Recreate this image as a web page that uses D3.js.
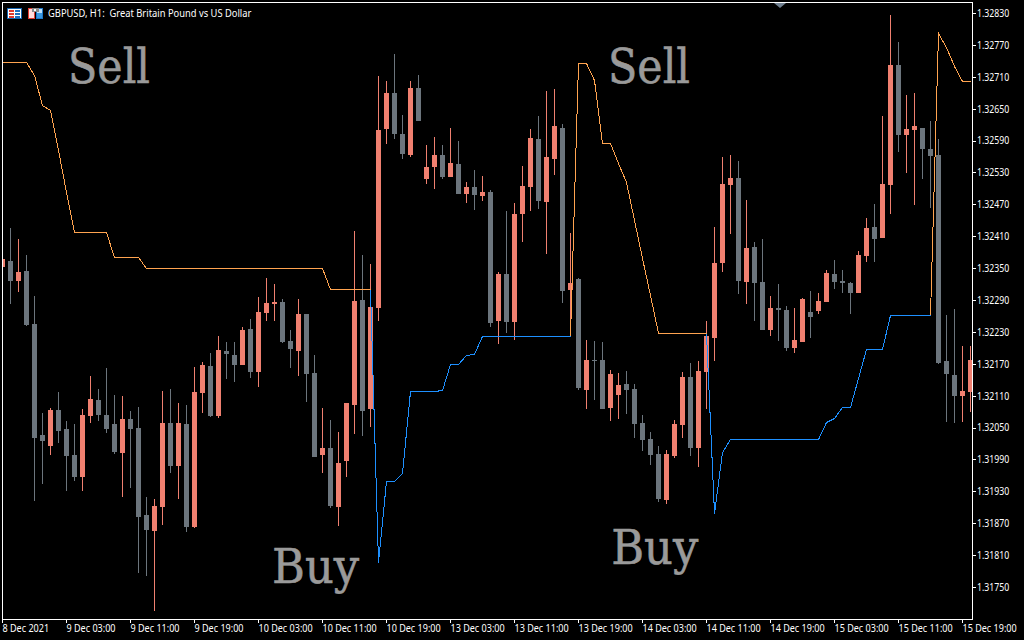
<!DOCTYPE html>
<html><head><meta charset="utf-8">
<style>
html,body{margin:0;padding:0;background:#000;overflow:hidden}
svg{display:block}
text{font-family:"Noto Sans","DejaVu Sans",sans-serif;fill:#fff}
</style>
<script src="https://cdn.jsdelivr.net/npm/d3@7/dist/d3.min.js"></script>
</head><body>
<script>
const title = "GBPUSD, H1:  Great Britain Pound vs US Dollar";
// Prices in points (1 point = 0.00001)
const open = [132352,132363,132326,132345,132245,132036,132015,132083,132047,131998,131957,132072,132102,132074,132057,132002,132066,132049,131886,131855,131900,132059,131978,132057,131863,132115,132166,132072,132194,132187,132168,132235,132155,132265,132283,132286,132213,132194,132263,132153,131998,132012,131900,131987,132092,132290,132085,132275,132612,132680,132602,132563,132689,132518,132540,132563,132521,132546,132490,132503,132486,132493,132250,132339,132249,132452,132503,132593,132474,132555,132614,132309,132330,132121,132177,132177,132087,132111,132132,132123,132059,132029,132000,131914,131997,132055,132145,132012,132155,132219,132360,132506,132520,132324,132390,132324,132234,132275,132271,132200,132211,132267,132269,132286,132339,132326,132322,132303,132373,132427,132407,132506,132732,132600,132610,132614,132574,132563,132175,132149,132109,132117];
const high = [132375,132426,132405,132375,132298,132077,132087,132117,132062,132057,132085,132147,132123,132162,132111,132109,132081,132089,131919,131916,132119,132123,132096,132092,132164,132173,132190,132222,132211,132211,132239,132254,132296,132332,132320,132292,132234,132292,132263,132187,132087,132064,132042,132096,132420,132375,132358,132711,132702,132753,132638,132702,132713,132582,132597,132582,132614,132589,132512,132535,132523,132497,132343,132457,132473,132542,132612,132636,132683,132687,132621,132416,132332,132215,132213,132211,132158,132153,132156,132132,132074,132042,132015,132008,132064,132155,132171,132175,132250,132427,132559,132563,132552,132478,132399,132405,132298,132320,132279,132275,132294,132307,132303,132347,132365,132347,132324,132382,132444,132471,132636,132826,132775,132676,132680,132614,132627,132593,132262,132273,132203,132203];
const low = [132337,132283,132305,132241,131912,131944,131998,132021,131930,131950,131930,132059,132062,132040,132000,131919,131936,131776,131771,131705,131867,131965,131916,131854,131861,132077,132070,132068,132141,132136,132168,132143,132126,132250,132250,132209,132162,132147,132098,131995,131965,131899,131865,131957,132038,132034,132051,132250,132584,132593,132555,132559,132627,132508,132499,132518,132521,132490,132473,132459,132476,132239,132207,132228,132215,132399,132457,132461,132377,132525,132284,132254,132121,132085,132102,132085,132062,132066,132076,132030,132006,131980,131910,131906,131993,132030,131997,131976,132085,132175,132343,132414,132301,132283,132250,132234,132222,132213,132194,132190,132211,132219,132263,132286,132311,132303,132263,132303,132362,132362,132407,132452,132568,132529,132469,132518,132463,132170,132061,132059,132061,132079];
const close = [132367,132326,132343,132243,132030,132025,132083,132044,131997,131957,132074,132104,132074,132047,132004,132066,132047,131882,131857,131902,132059,131978,132059,131863,132117,132168,132072,132196,132188,132168,132234,132155,132267,132284,132286,132211,132198,132263,132151,131995,132012,131902,131983,132096,132288,132081,132277,132610,132680,132602,132565,132689,132627,132540,132563,132521,132548,132490,132503,132488,132493,132247,132339,132249,132452,132505,132595,132476,132559,132617,132307,132322,132125,132177,132175,132085,132151,132130,132121,132057,132027,131998,131916,132000,132057,132145,132012,132156,132222,132360,132508,132520,132326,132388,132322,132234,132275,132271,132200,132215,132292,132258,132288,132341,132324,132322,132303,132375,132426,132405,132508,132732,132600,132612,132617,132574,132561,132171,132151,132109,132119,132177];
const sellLine = [132738,132738,132738,132738,132713,132657,132648,132572,132493,132418,132418,132418,132418,132418,132371,132371,132371,132371,132350,132350,132350,132350,132350,132350,132350,132350,132350,132350,132350,132350,132350,132350,132350,132350,132350,132350,132350,132350,132350,132350,132350,132311,132311,132311,132311,132311,132311,
null,null,null,null,null,null,null,null,null,null,null,null,null,null,null,null,null,null,null,null,null,null,null,null,
132222,132736,132736,132704,132586,132586,132548,132512,132441,132369,132300,132228,132228,132228,132228,132228,132228,132228,
null,null,null,null,null,null,null,null,null,null,null,null,null,null,null,null,null,null,null,null,null,null,null,null,null,null,null,
132262,132792,132766,132730,132702,132702];
const buyLine = [null,null,null,null,null,null,null,null,null,null,null,null,null,null,null,null,null,null,null,null,null,null,null,null,null,null,null,null,null,null,null,null,null,null,null,null,null,null,null,null,null,null,null,null,null,null,
132311,131797,131950,131950,131965,132119,132119,132119,132119,132121,132170,132170,132187,132188,132222,132222,132222,132222,132222,132222,132222,132222,132222,132222,132222,132222,
null,null,null,null,null,null,null,null,null,null,null,null,null,null,null,null,
132228,131889,132004,132029,132029,132029,132029,132029,132029,132029,132029,132029,132029,132029,132029,132061,132068,132089,132089,132143,132198,132198,132198,132262,132262,132262,132262,132262,132262,
null,null,null,null,null];
const priceTicks = [1.31750,1.31810,1.31870,1.31930,1.31990,1.32050,1.32110,1.32170,1.32230,1.32290,1.32350,1.32410,1.32470,1.32530,1.32590,1.32650,1.32710,1.32770,1.32830];
const timeTicks = [0,8,16,24,32,40,48,56,64,72,80,88,96,104,112,120];
const timeLabels = ["8 Dec 2021","9 Dec 03:00","9 Dec 11:00","9 Dec 19:00","10 Dec 03:00","10 Dec 11:00","10 Dec 19:00","13 Dec 03:00","13 Dec 11:00","13 Dec 19:00","14 Dec 03:00","14 Dec 11:00","14 Dec 19:00","15 Dec 03:00","15 Dec 11:00","15 Dec 19:00"];
const notes = ["Sell","Sell","Buy","Buy"];
const noteBar = [8.25,75.75,33.75,76.15];
const notePrice = [1.32698,1.32698,1.31757,1.31794];

const W=1024,H=640,L=2,T=2,R=972,B=619;
const COL={up:"#f08070",down:"#6c757d",sell:"#ffa450",buy:"#1e90ff",note:"#9a9a9a"};
const svg=d3.select("body").append("svg").attr("width",W).attr("height",H);
svg.append("rect").attr("width",W).attr("height",H).attr("fill","#000");
const x=d3.scaleLinear().domain([0,121]).range([2,970]);
const y=d3.scaleLinear().domain([1.31750,1.32830]).range([587,13]);
const py=p=>Math.round(y(p/1e5));
const bars=d3.range(open.length).map(i=>({i,o:open[i],h:high[i],l:low[i],c:close[i]}));

svg.append("defs").append("clipPath").attr("id","plot").append("rect")
  .attr("x",L+1).attr("y",T+1).attr("width",R-L-1).attr("height",B-T-1);
const plot=svg.append("g").attr("clip-path","url(#plot)").attr("shape-rendering","crispEdges");

// Notes
const noteG=plot.append("g");
noteG.selectAll("text").data(notes).join("text")
  .attr("x",(d,i)=>x(noteBar[i])).attr("y",(d,i)=>y(notePrice[i]))
  .attr("font-size",48).attr("text-rendering","geometricPrecision")
  .attr("textLength",(d)=>d==="Sell"?82:87).attr("lengthAdjust","spacingAndGlyphs")
  .style("font-family",'"DejaVu Serif",serif').style("fill",COL.note)
  .style("stroke",COL.note).style("stroke-width",0.6).text(d=>d);

plot.selectAll("rect.wick").data(bars).join("rect").attr("class","wick")
  .attr("x",d=>x(d.i)).attr("width",1)
  .attr("y",d=>py(d.h)).attr("height",d=>Math.max(1,py(d.l)-py(d.h)))
  .attr("fill",d=>d.c>=d.o?COL.up:COL.down);
plot.selectAll("rect.body").data(bars).join("rect").attr("class","body")
  .attr("x",d=>x(d.i)-2).attr("width",5)
  .attr("y",d=>py(Math.max(d.o,d.c))).attr("height",d=>Math.max(1,py(Math.min(d.o,d.c))-py(Math.max(d.o,d.c))))
  .attr("fill",d=>d.c>=d.o?COL.up:COL.down);

const line=d3.line().defined(d=>d!==null).x((d,i)=>x(i)+.5).y(d=>py(d)+.5);
plot.append("path").attr("d",line(buyLine)).attr("fill","none").attr("stroke",COL.buy).attr("stroke-width",1);
plot.append("path").attr("d",line(sellLine)).attr("fill","none").attr("stroke",COL.sell).attr("stroke-width",1);

// Frame
svg.append("rect").attr("x",L+.5).attr("y",T+.5).attr("width",R-L).attr("height",B-T)
  .attr("fill","none").attr("stroke","#fff").attr("shape-rendering","crispEdges");

// Text narrowed to the width of the terminal's UI font
const squeeze=(sel,k)=>sel.each(function(){
  const n=this.getComputedTextLength();
  d3.select(this).attr("textLength",n*k).attr("lengthAdjust","spacingAndGlyphs");
});

// Axes
const yAxis=d3.axisRight(y).tickValues(priceTicks).tickFormat(d3.format(".5f")).tickSize(4).tickPadding(1);
const gy=svg.append("g").attr("transform",`translate(${R},0)`).call(yAxis);
const xAxis=d3.axisBottom(x).tickValues(timeTicks).tickFormat((d,i)=>timeLabels[i]).tickSize(4).tickPadding(2);
const gx=svg.append("g").attr("transform",`translate(0,${B})`).call(xAxis);
[gy,gx].forEach(g=>{
  g.select(".domain").remove();
  g.attr("font-family",null).attr("font-size",null);
  g.selectAll("line").attr("stroke","#fff").attr("shape-rendering","crispEdges");
  g.selectAll("text").attr("font-size",10.5).style("fill","#fff");
});
gx.selectAll("text").attr("text-anchor","start");
squeeze(gy.selectAll("text"),0.83);
squeeze(gx.selectAll("text"),0.86);

// Title and header icons
const titleEl=svg.append("text").attr("x",48).attr("y",17).attr("font-size",10.5).style("white-space","pre").text(title);
squeeze(titleEl,0.89);
const ic=svg.append("g").attr("shape-rendering","crispEdges");
const rect=(g,x0,y0,w,h,f)=>g.append("rect").attr("x",x0).attr("y",y0).attr("width",w).attr("height",h).attr("fill",f);
rect(ic,7,8,15,11,"#1565b0");rect(ic,8,9,6,9,"#e03a30");rect(ic,8,9,13,9,"#fff");
[10,13,16].forEach(v=>{rect(ic,9,v,5,2,"#e03a30");rect(ic,15,v,5,2,"#1e6fc0");});
rect(ic,28,8,7,11,"#e03a30");rect(ic,29,9,5,9,"#fdd");rect(ic,36,8,7,11,"#1e78c8");rect(ic,37,9,5,9,"#bfe0f8");
rect(ic,32,8,7,4,"#8a8a8a");rect(ic,34,9,2,2,"#fff");rect(ic,37,13,5,5,"#3a98e0");

// Chart shift marker
svg.append("path").attr("d",d3.line()([[774,3],[786,3],[780,8]])+"Z").attr("fill","#708090");
</script>
</body></html>
